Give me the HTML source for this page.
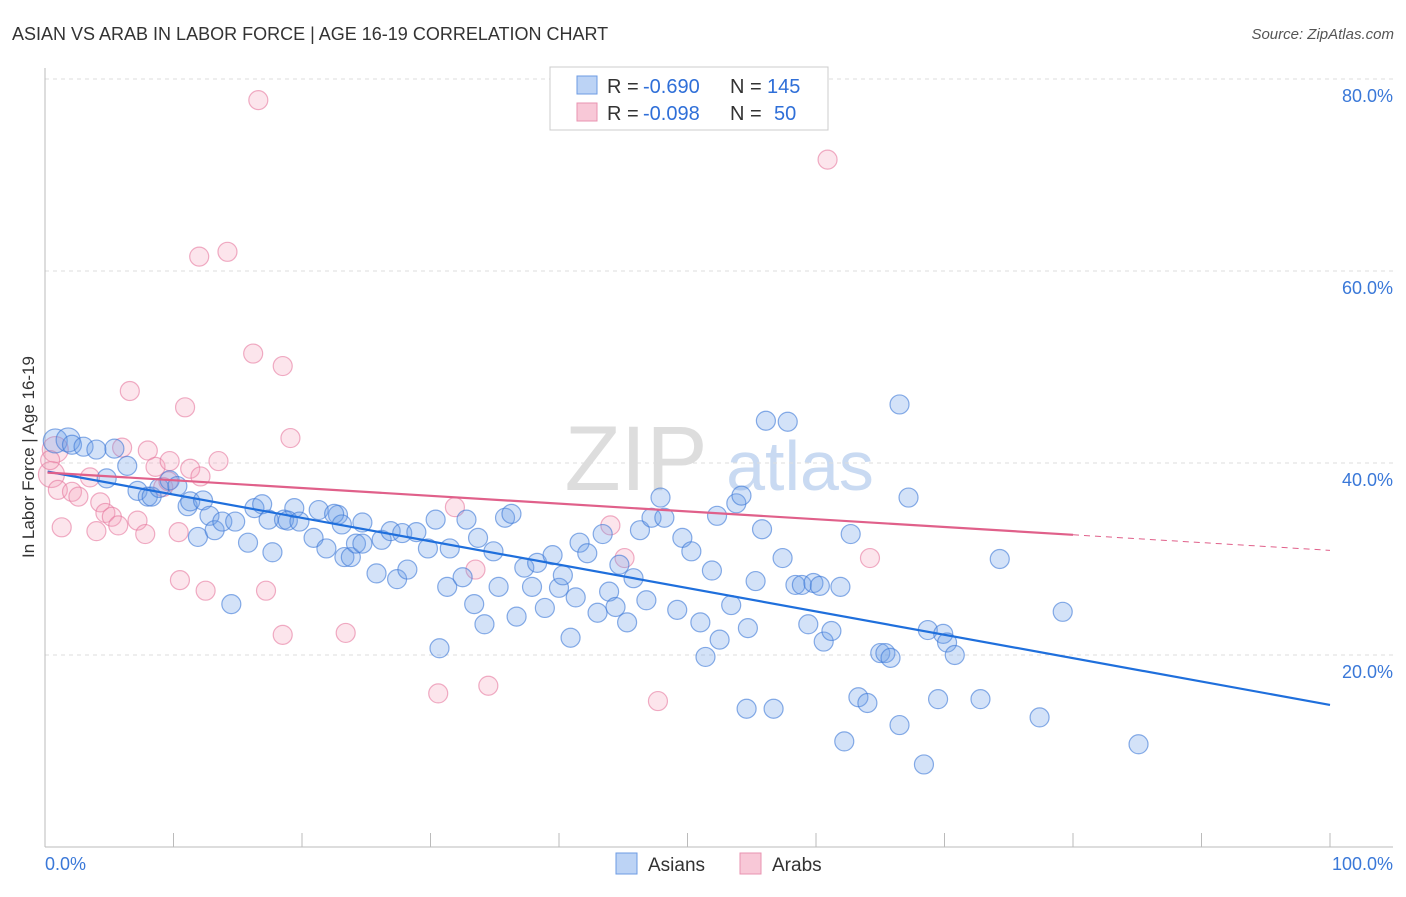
<!DOCTYPE html>
<html><head><meta charset="utf-8"><style>
body{margin:0;background:#fff;font-family:"Liberation Sans",sans-serif;}
svg text{font-family:"Liberation Sans",sans-serif;}
</style></head><body>
<svg id="chart" width="1406" height="892" xmlns="http://www.w3.org/2000/svg">
<text x="12" y="40" font-size="18" fill="#333">ASIAN VS ARAB IN LABOR FORCE | AGE 16-19 CORRELATION CHART</text>
<text x="1394" y="39" font-size="15" fill="#555" font-style="italic" text-anchor="end">Source: ZipAtlas.com</text>
<text transform="translate(34,457) rotate(-90)" font-size="17" fill="#333" text-anchor="middle">In Labor Force | Age 16-19</text>
<g>
<text x="636" y="490" font-size="92" fill="#ddd" font-family="Liberation Serif" text-anchor="middle">ZIP</text>
<text x="800" y="490" font-size="70" fill="#c9daf2" text-anchor="middle">atlas</text>
</g>
<g id="grid"></g><g id="axes"></g><g id="marks"></g>
<g>
<rect x="550" y="67" width="278" height="63" fill="#fff" stroke="#ccc"/>
<rect x="577" y="76" width="20" height="18" fill="#bcd3f5" stroke="#6d9be3"/>
<rect x="577" y="103" width="20" height="18" fill="#f8c8d7" stroke="#e993b0"/>
<g font-size="20">
<text x="607" y="93" fill="#333">R =</text><text x="643" y="93" fill="#2f6fd8">-0.690</text>
<text x="730" y="93" fill="#333">N =</text><text x="767" y="93" fill="#2f6fd8">145</text></g>
<g font-size="20">
<text x="607" y="120" fill="#333">R =</text><text x="643" y="120" fill="#2f6fd8">-0.098</text>
<text x="730" y="120" fill="#333">N =</text><text x="774" y="120" fill="#2f6fd8">50</text></g>
</g>
<g>
<rect x="616" y="853" width="21" height="21" fill="#bcd3f5" stroke="#6d9be3"/>
<text x="648" y="871" font-size="19" fill="#333">Asians</text>
<rect x="740" y="853" width="21" height="21" fill="#f8c8d7" stroke="#e993b0"/>
<text x="772" y="871" font-size="19" fill="#333">Arabs</text>
</g>
</svg>
<script>
const asianX=[0.8,1.8,2.1,3.0,4.0,5.4,6.4,4.8,7.2,8.0,8.3,8.9,9.7,10.3,11.1,11.3,12.3,11.9,12.8,13.2,13.8,14.8,14.5,15.8,16.3,16.9,17.4,17.7,18.6,19.4,18.9,19.8,20.9,21.3,21.9,22.8,22.5,23.1,23.3,23.8,24.2,24.7,24.7,25.8,26.2,26.9,27.4,27.8,28.2,28.9,29.8,30.4,30.7,31.3,31.5,32.5,32.8,33.4,33.7,34.2,34.9,35.3,35.8,36.3,36.7,37.3,37.9,38.3,38.9,39.5,40.0,40.3,40.9,41.3,41.6,42.2,43.0,43.4,43.9,44.4,44.7,45.3,45.8,46.3,46.8,47.2,47.9,48.2,49.2,49.6,50.3,51.0,51.4,51.9,52.3,52.5,53.4,53.8,54.2,54.6,54.7,55.3,55.8,56.1,56.7,57.4,57.8,58.4,58.9,59.4,59.8,60.3,60.6,61.2,61.9,62.2,62.7,63.3,64.0,65.0,65.4,65.8,66.5,66.5,67.2,68.4,68.7,69.5,69.9,70.2,70.8,72.8,74.3,77.4,79.2,85.1];
const asianY=[42.3,42.4,41.9,41.7,41.4,41.5,39.7,38.4,37.1,36.5,36.5,37.4,38.2,37.6,35.5,36.0,36.1,32.3,34.5,33.0,33.9,33.9,25.3,31.7,35.3,35.7,34.1,30.7,34.1,35.3,34.0,33.9,32.2,35.1,31.1,34.6,34.7,33.6,30.2,30.2,31.6,31.6,33.8,28.5,32.0,32.9,27.9,32.7,28.9,32.8,31.1,34.1,20.7,27.1,31.1,28.1,34.1,25.3,32.2,23.2,30.8,27.1,34.3,34.7,24.0,29.1,27.1,29.6,24.9,30.4,27.0,28.3,21.8,26.0,31.7,30.6,24.4,32.6,26.6,25.0,29.4,23.4,28.0,33.0,25.7,34.3,36.4,34.3,24.7,32.2,30.8,23.4,19.8,28.8,34.5,21.6,25.2,35.8,36.6,14.4,22.8,27.7,33.1,44.4,14.4,30.1,44.3,27.3,27.3,23.2,27.5,27.2,21.4,22.5,27.1,11.0,32.6,15.6,15.0,20.2,20.2,19.7,46.1,12.7,36.4,8.6,22.6,15.4,22.2,21.3,20.0,15.4,30.0,13.5,24.5,10.7];
const arabX=[0.8,0.5,1.0,1.3,2.1,2.6,3.5,4.0,4.3,4.7,5.2,5.7,6.0,6.6,7.2,7.8,8.0,8.6,9.2,9.7,10.4,10.5,10.9,11.3,12.1,12.5,13.5,12.0,14.2,16.2,16.6,17.2,18.5,18.5,19.1,23.4,30.6,31.9,33.5,34.5,44.0,45.1,47.7,60.9,64.2,0.4,9.6];
const arabY=[41.4,38.8,37.2,33.3,37.0,36.5,38.5,32.9,35.9,34.8,34.4,33.5,41.6,47.5,34.0,32.6,41.3,39.6,37.5,40.2,32.8,27.8,45.8,39.4,38.6,26.7,40.2,61.5,62.0,51.4,77.8,26.7,50.1,22.1,42.6,22.3,16.0,35.4,28.9,16.8,33.5,30.1,15.2,71.6,30.1,40.3,38.1];
const asianTrend=[39.1,-0.243];
const arabTrend=[39.0,-0.081];
const xTickLabels=["0.0%","100.0%"];
const yTicks=[20,40,60,80];

const NS="http://www.w3.org/2000/svg";
const X0=45,X1=1330,Y0=847,YS=9.6;
const sx=v=>X0+v*(X1-X0)/100;
const sy=v=>Y0-v*YS;
function mk(t,a,p){const e=document.createElementNS(NS,t);for(const k in a)e.setAttribute(k,a[k]);p.appendChild(e);return e;}
const grid=document.getElementById('grid'),axes=document.getElementById('axes'),marks=document.getElementById('marks');
yTicks.forEach(t=>{
  const l=mk('line',{x1:X0,x2:1393,y1:sy(t),y2:sy(t),stroke:'#ddd','stroke-dasharray':'4,4'},grid);
  
  
  const tx=mk('text',{x:1393,y:sy(t)+23,'font-size':18,fill:'#3a78d8','text-anchor':'end'},axes);
  tx.textContent=t.toFixed(1)+'%';
  
  
});
const ya=mk('line',{x1:X0,x2:X0,y1:68,y2:Y0,stroke:'#bbb'},axes);


const xa=mk('line',{x1:X0,x2:1393,y1:Y0,y2:Y0,stroke:'#bbb'},axes);


for(let i=1;i<=10;i++){const t=mk('line',{x1:sx(i*10),x2:sx(i*10),y1:833,y2:Y0,stroke:'#bbb'},axes);
  
  }
const xl0=mk('text',{x:45,y:870,'font-size':18,fill:'#3a78d8'},axes);xl0.textContent=xTickLabels[0];


const xl1=mk('text',{x:1393,y:870,'font-size':18,fill:'#3a78d8','text-anchor':'end'},axes);xl1.textContent=xTickLabels[1];



arabX.forEach((x,i)=>{const c=mk('circle',{cx:sx(x),cy:sy(arabY[i]),r:i<2?13:9.5,fill:'rgba(243,160,188,0.28)',stroke:'rgba(230,120,158,0.6)','stroke-width':1.2},marks);
  
  });
asianX.forEach((x,i)=>{const c=mk('circle',{cx:sx(x),cy:sy(asianY[i]),r:i<2?12:9.5,fill:'rgba(110,160,232,0.3)',stroke:'rgba(60,120,215,0.6)','stroke-width':1.2},marks);
  
  });
const bl=mk('line',{x1:sx(0.2),y1:sy(asianTrend[0]),x2:sx(100),y2:sy(asianTrend[0]+asianTrend[1]*100),stroke:'#1f6fdc','stroke-width':2.2},marks);


const pl=mk('line',{x1:sx(0.2),y1:sy(arabTrend[0]),x2:sx(80),y2:sy(arabTrend[0]+arabTrend[1]*80),stroke:'#e0608a','stroke-width':2.2},marks);


const pd=mk('line',{x1:sx(80),y1:sy(arabTrend[0]+arabTrend[1]*80),x2:sx(100),y2:sy(arabTrend[0]+arabTrend[1]*100),stroke:'#e0608a','stroke-width':1,'stroke-dasharray':'6,5'},marks);


</script>
</body></html>
